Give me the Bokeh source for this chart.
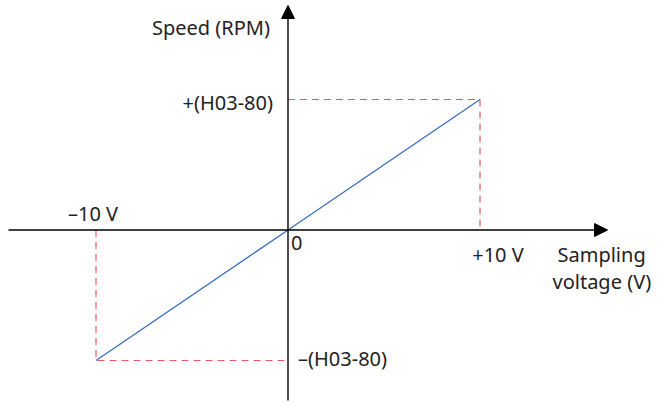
from bokeh.plotting import figure
from bokeh.models import Range1d, Arrow, NormalHead
from bokeh.core.properties import value
from bokeh.embed import file_html
from bokeh.resources import INLINE

# ---- data ----
voltage = [-10, 0, 10]          # sampling voltage (V)
speed = [-1, 0, 1]              # speed, in units of H03-80
x_labels = ["–10 V", "+10 V"]
y_labels = ["–(H03-80)", "+(H03-80)"]
origin_label = "0"
x_title = ["Sampling", "voltage (V)"]
y_title = "Speed (RPM)"

# ---- layout ----
W, H = 659, 403
X0_PX, SX = 287.5, 19.2       # origin x (px from left), px per volt
Y0_PX, SY = 229.5, 130.5      # origin y (px from top), px per unit

p = figure(width=W, height=H, output_backend="svg", toolbar_location=None,
           x_range=Range1d(-X0_PX / SX, (W - X0_PX) / SX),
           y_range=Range1d(-(H - Y0_PX) / SY, Y0_PX / SY),
           min_border=0, outline_line_color=None)
p.axis.visible = False
p.grid.visible = False
p.background_fill_color = "white"

xs0, xs1 = p.x_range.start, p.x_range.end
ys0, ys1 = p.y_range.start, p.y_range.end
x_left = xs0 + 8.0 / SX
x_tip = (607 - X0_PX) / SX
y_tip = ys1 - 5.0 / SY
y_bottom = ys0 + 3.0 / SY

font = value("Noto Sans")
fs = "20px"

# dashed guides
vmin, vmax = min(voltage), max(voltage)
smin, smax = min(speed), max(speed)
p.multi_line(xs=[[0, vmax, vmax], [vmin, vmin, 0]],
             ys=[[smax, smax, 0], [0, smin, smin]],
             line_color="#f05a5a", line_width=1.2, line_dash="7 5")

# characteristic line
p.line(voltage, speed, line_color="#3a6cc4", line_width=1.3)

# axes with arrows
p.add_layout(Arrow(x_start=x_left, y_start=0, x_end=x_tip, y_end=0,
                   line_color="black", line_width=1.4,
                   end=NormalHead(size=13, fill_color="black", line_color="black")))
p.add_layout(Arrow(x_start=0, y_start=y_bottom, x_end=0, y_end=y_tip,
                   line_color="black", line_width=1.4,
                   end=NormalHead(size=13, fill_color="black", line_color="black")))

def txt(x, y, t, align, xo, yo):
    p.text(x=[x], y=[y], text=[t], text_font=font, text_font_size=fs,
           text_color="#222222", text_align=align, text_baseline="middle",
           x_offset=xo, y_offset=yo)

txt(vmin, 0, x_labels[0], "center", -3, -17)
txt(vmax, 0, x_labels[1], "center", 18, 24)
txt(0, smax, y_labels[1], "right", -15, 3)
txt(0, smin, y_labels[0], "left", 10, -2)
txt(0, 0, origin_label, "left", 3, 13)
txt(x_tip, 0, x_title[0], "left", -50, 24)
txt(x_tip, 0, x_title[1], "left", -55, 51)
txt(0, y_tip, y_title, "right", -18, 22)

open("out.html", "w").write(file_html(p, INLINE))
